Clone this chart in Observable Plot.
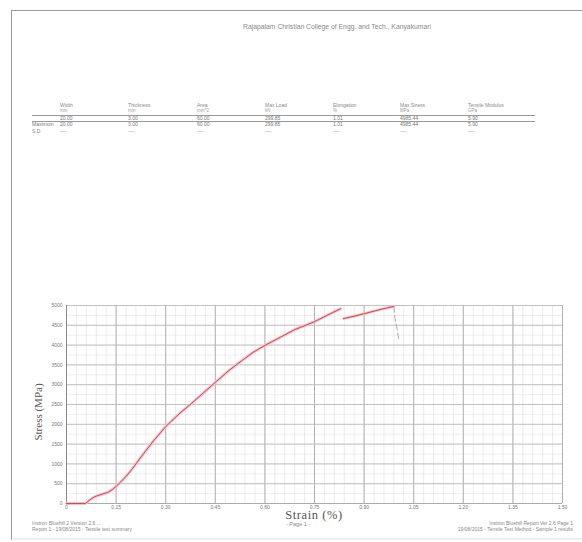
<!DOCTYPE html>
<html>
<head>
<meta charset="utf-8">
<script src="https://cdn.jsdelivr.net/npm/d3@7"></script>
<script src="https://cdn.jsdelivr.net/npm/@observablehq/plot@0.6"></script>
<style>
  html, body { margin: 0; padding: 0; background: #fff; }
  #page { position: relative; width: 582px; height: 542px; overflow: hidden; background: #fff; font-family: "Liberation Sans", Arial, sans-serif; color: #777; }
  .abs { position: absolute; white-space: nowrap; }
  #chart { position: absolute; left: 0; top: 290px; }
  .tiny { font-size: 5px; line-height: 6px; color: #888; }
</style>
</head>
<body>
<div id="page">
  <div id="table"></div>
  <div id="chart"></div>
  <div class="abs" style="left:11px; top:10px; width:571px; height:0; border-top:1.5px solid #999;"></div>
  <div class="abs" style="left:11px; top:10px; width:0; height:530px; border-left:1.5px solid #999;"></div>
  <div class="abs" style="left:13px; top:538px; width:569px; height:0; border-top:2px solid #eee;"></div>
  <div class="abs" id="title" style="left:243px; top:23px; font-size:6.8px; color:#888;"></div>
  <div class="abs" id="ylab" style="left:38px; top:412px; font-family:'Liberation Serif',serif; font-size:11px; color:#555; transform:translate(-50%,-50%) rotate(-90deg);"></div>
  <div class="abs" id="xlab" style="left:314px; top:508px; font-family:'Liberation Serif',serif; font-size:12.5px; letter-spacing:0.6px; color:#555; transform:translateX(-50%);"></div>
  <div class="abs" id="pagelab" style="left:286px; top:521px; font-size:5.5px; color:#888;"></div>
  <div class="abs tiny" id="footL" style="left:32px; top:520px;"></div>
  <div class="abs tiny" id="footR" style="left:447px; top:520px; text-align:right; width:126px;"></div>
</div>
<script>
// ---- texts ----
const titleText = "Rajapalam Christian College of Engg. and Tech., Kanyakumari";
const colHeaders = ["Width", "Thickness", "Area", "Max Load", "Elongation", "Max Stress", "Tensile Modulus"];
const colUnits = ["mm", "mm", "mm^2", "kN", "%", "MPa", "GPa"];
const rowLabels = ["", "Maximum", "S.D."];
const row1 = ["20.00", "3.00", "60.00", "299.85", "1.01", "4985.44", "5.90"];
const row2 = ["20.00", "3.00", "60.00", "299.85", "1.01", "4985.44", "5.90"];
const row3 = ["----", "----", "----", "----", "----", "----", "----"];
const colX = [60, 128, 197, 265, 333, 400, 468];

// ---- axis ticks ----
const xTicks = [0, 0.15, 0.30, 0.45, 0.60, 0.75, 0.90, 1.05, 1.20, 1.35, 1.50];
const xTickLabels = ["0", "0.15", "0.30", "0.45", "0.60", "0.75", "0.90", "1.05", "1.20", "1.35", "1.50"];
const yTicks = [0, 500, 1000, 1500, 2000, 2500, 3000, 3500, 4000, 4500, 5000];
const yTickLabels = ["0", "500", "1000", "1500", "2000", "2500", "3000", "3500", "4000", "4500", "5000"];

// ---- curve data: strain (%) and stress (MPa) ----
const strain1 = [0, 0.057, 0.075, 0.085, 0.105, 0.125, 0.14, 0.155, 0.175, 0.194, 0.225, 0.263, 0.301, 0.34, 0.377, 0.415, 0.453, 0.49, 0.529, 0.565, 0.602, 0.647, 0.69, 0.747, 0.79, 0.829];
const stress1 = [0, 0, 120, 170, 230, 280, 360, 470, 640, 820, 1170, 1580, 1950, 2260, 2520, 2800, 3080, 3350, 3600, 3820, 4000, 4200, 4390, 4580, 4760, 4920];
const strain2 = [0.838, 0.87, 0.904, 0.94, 0.97, 0.99];
const stress2 = [4670, 4730, 4800, 4880, 4940, 4980];
const strainDrop = [0.99, 0.993, 1.0, 1.004];
const stressDrop = [4980, 4700, 4400, 4170];

// ---- labels ----
const yLabel = "Stress (MPa)";
const xLabel = "Strain (%)";
const pageLabel = "- Page 1 -";
const footLeft = ["Instron Bluehill 2 Version 2.6 ...", "Report 1 - 19/08/2015 - Tensile test summary"];
const footRight = ["Instron Bluehill Report Ver 2.6 Page 1", "19/08/2015 - Tensile Test Method - Sample 1 results"];

document.getElementById("title").textContent = titleText;
document.getElementById("ylab").textContent = yLabel;
document.getElementById("xlab").textContent = xLabel;
document.getElementById("pagelab").textContent = pageLabel;
document.getElementById("footL").innerHTML = footLeft.join("<br>");
document.getElementById("footR").innerHTML = footRight.join("<br>");

// table
const tbl = document.getElementById("table");
function addText(txt, x, y, size, color) {
  const d = document.createElement("div");
  d.className = "abs";
  d.style.left = x + "px"; d.style.top = y + "px";
  d.style.fontSize = size + "px"; d.style.color = color;
  d.textContent = txt;
  tbl.appendChild(d);
}
colHeaders.forEach((h, i) => addText(h, colX[i], 102, 5, "#888"));
colUnits.forEach((h, i) => addText(h, colX[i], 108, 4.5, "#999"));
row1.forEach((h, i) => addText(h, colX[i], 115, 5, "#777"));
row2.forEach((h, i) => addText(h, colX[i], 121, 5, "#777"));
row3.forEach((h, i) => addText(h, colX[i], 128, 5, "#888"));
addText(rowLabels[1], 32, 121, 5, "#777");
addText(rowLabels[2], 32, 128, 5, "#888");
[115, 121].forEach(y => {
  const l = document.createElement("div");
  l.className = "abs";
  l.style.left = "32px"; l.style.top = y + "px"; l.style.width = "503px";
  l.style.borderTop = "1px solid #999";
  tbl.appendChild(l);
});

// chart
const seg1 = strain1.map((s, i) => ({strain: s, stress: stress1[i]}));
const seg2 = strain2.map((s, i) => ({strain: s, stress: stress2[i]}));
const segDrop = strainDrop.map((s, i) => ({strain: s, stress: stressDrop[i]}));
const xLabMap = new Map(xTicks.map((t, i) => [t, xTickLabels[i]]));
const yLabMap = new Map(yTicks.map((t, i) => [t, yTickLabels[i]]));
const minorX = d3.range(0, 1.5001, 0.03);
const minorY = d3.range(0, 5001, 250);

const chart = Plot.plot({
  width: 582,
  height: 230,
  marginTop: 15,
  marginBottom: 17,
  marginLeft: 66,
  marginRight: 20,
  x: {domain: [0, 1.5], label: null},
  y: {domain: [0, 5000], label: null},
  style: {fontFamily: "Liberation Sans, Arial, sans-serif", fontSize: "5px", color: "#777", background: "transparent"},
  marks: [
    Plot.gridX(minorX, {stroke: "#ddd", strokeOpacity: 1, strokeWidth: 0.6}),
    Plot.gridY(minorY, {stroke: "#e4e4e4", strokeOpacity: 1, strokeWidth: 0.6}),
    Plot.gridX(xTicks, {stroke: "#aaa", strokeOpacity: 1, strokeWidth: 0.9}),
    Plot.gridY(yTicks, {stroke: "#bbb", strokeOpacity: 1, strokeWidth: 0.9}),
    Plot.axisX(xTicks, {tickSize: 0, tickPadding: 1.5, tickFormat: d => xLabMap.get(d), label: null}),
    Plot.axisY(yTicks, {tickSize: 0, tickPadding: 4, tickFormat: d => yLabMap.get(d), label: null}),
    Plot.ruleX([0], {stroke: "#888", strokeWidth: 1}),
    Plot.ruleY([0], {stroke: "#aaa", strokeWidth: 1}),
    Plot.line(seg1, {x: "strain", y: "stress", stroke: "#f5c0c5", strokeWidth: 2.8}),
    Plot.line(seg1, {x: "strain", y: "stress", stroke: "#d94452", strokeWidth: 1}),
    Plot.line(seg2, {x: "strain", y: "stress", stroke: "#f5c0c5", strokeWidth: 2.8}),
    Plot.line(seg2, {x: "strain", y: "stress", stroke: "#d94452", strokeWidth: 1}),
    Plot.line(segDrop, {x: "strain", y: "stress", stroke: "#aaa", strokeWidth: 1, strokeDasharray: "6,3"})
  ]
});
document.getElementById("chart").appendChild(chart);
</script>
</body>
</html>
